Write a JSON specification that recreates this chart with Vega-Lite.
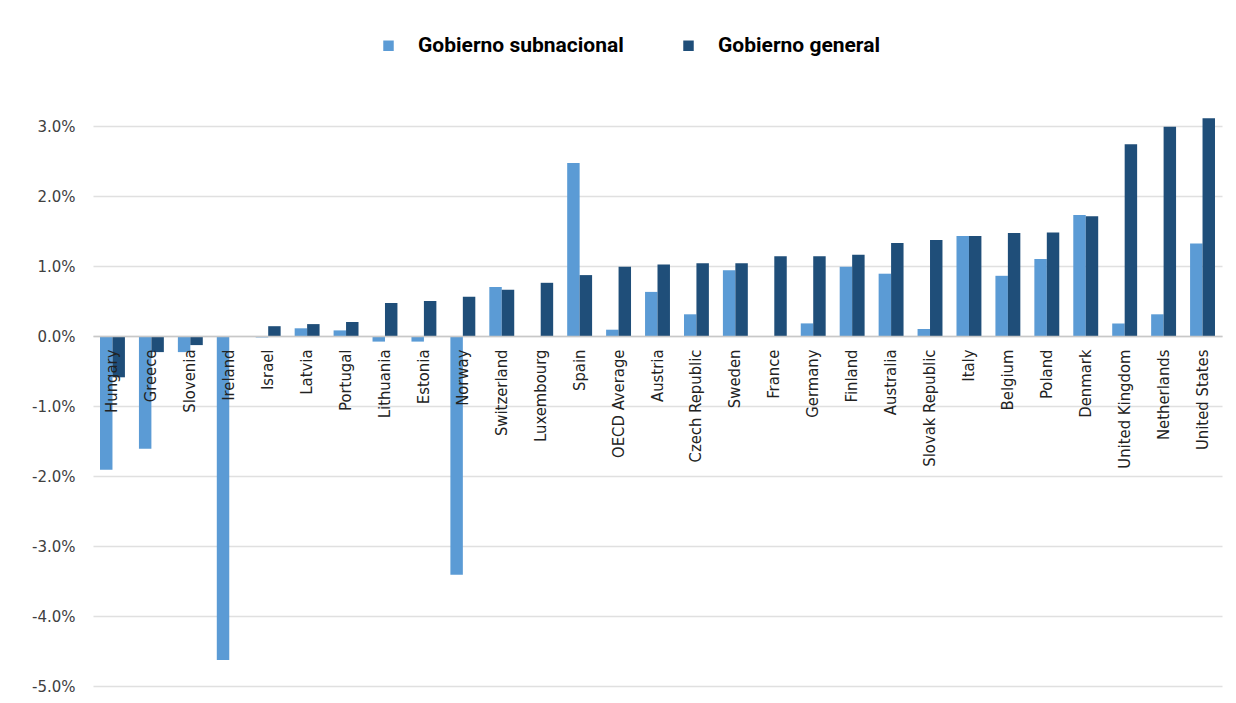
{
  "$schema": "https://vega.github.io/schema/vega-lite/v6.json",
  "width": 1129,
  "height": 595,
  "autosize": {"type": "none"},
  "padding": {"left": 93, "top": 91, "right": 14, "bottom": 17},
  "background": "white",
  "config": {"view": {"stroke": null}},
  "data": {"values": [
    {"pais": "Hungary", "serie": "Gobierno subnacional", "valor": -1.91},
    {"pais": "Hungary", "serie": "Gobierno general", "valor": -0.59},
    {"pais": "Greece", "serie": "Gobierno subnacional", "valor": -1.61},
    {"pais": "Greece", "serie": "Gobierno general", "valor": -0.23},
    {"pais": "Slovenia", "serie": "Gobierno subnacional", "valor": -0.23},
    {"pais": "Slovenia", "serie": "Gobierno general", "valor": -0.13},
    {"pais": "Ireland", "serie": "Gobierno subnacional", "valor": -4.63},
    {"pais": "Ireland", "serie": "Gobierno general", "valor": 0},
    {"pais": "Israel", "serie": "Gobierno subnacional", "valor": -0.02},
    {"pais": "Israel", "serie": "Gobierno general", "valor": 0.14},
    {"pais": "Latvia", "serie": "Gobierno subnacional", "valor": 0.11},
    {"pais": "Latvia", "serie": "Gobierno general", "valor": 0.17},
    {"pais": "Portugal", "serie": "Gobierno subnacional", "valor": 0.08},
    {"pais": "Portugal", "serie": "Gobierno general", "valor": 0.2},
    {"pais": "Lithuania", "serie": "Gobierno subnacional", "valor": -0.08},
    {"pais": "Lithuania", "serie": "Gobierno general", "valor": 0.47},
    {"pais": "Estonia", "serie": "Gobierno subnacional", "valor": -0.08},
    {"pais": "Estonia", "serie": "Gobierno general", "valor": 0.5},
    {"pais": "Norway", "serie": "Gobierno subnacional", "valor": -3.41},
    {"pais": "Norway", "serie": "Gobierno general", "valor": 0.56},
    {"pais": "Switzerland", "serie": "Gobierno subnacional", "valor": 0.7},
    {"pais": "Switzerland", "serie": "Gobierno general", "valor": 0.66},
    {"pais": "Luxembourg", "serie": "Gobierno subnacional", "valor": 0},
    {"pais": "Luxembourg", "serie": "Gobierno general", "valor": 0.76},
    {"pais": "Spain", "serie": "Gobierno subnacional", "valor": 2.47},
    {"pais": "Spain", "serie": "Gobierno general", "valor": 0.87},
    {"pais": "OECD Average", "serie": "Gobierno subnacional", "valor": 0.09},
    {"pais": "OECD Average", "serie": "Gobierno general", "valor": 0.99},
    {"pais": "Austria", "serie": "Gobierno subnacional", "valor": 0.63},
    {"pais": "Austria", "serie": "Gobierno general", "valor": 1.02},
    {"pais": "Czech Republic", "serie": "Gobierno subnacional", "valor": 0.31},
    {"pais": "Czech Republic", "serie": "Gobierno general", "valor": 1.04},
    {"pais": "Sweden", "serie": "Gobierno subnacional", "valor": 0.94},
    {"pais": "Sweden", "serie": "Gobierno general", "valor": 1.04},
    {"pais": "France", "serie": "Gobierno subnacional", "valor": 0},
    {"pais": "France", "serie": "Gobierno general", "valor": 1.14},
    {"pais": "Germany", "serie": "Gobierno subnacional", "valor": 0.18},
    {"pais": "Germany", "serie": "Gobierno general", "valor": 1.14},
    {"pais": "Finland", "serie": "Gobierno subnacional", "valor": 0.99},
    {"pais": "Finland", "serie": "Gobierno general", "valor": 1.16},
    {"pais": "Australia", "serie": "Gobierno subnacional", "valor": 0.89},
    {"pais": "Australia", "serie": "Gobierno general", "valor": 1.33},
    {"pais": "Slovak Republic", "serie": "Gobierno subnacional", "valor": 0.1},
    {"pais": "Slovak Republic", "serie": "Gobierno general", "valor": 1.37},
    {"pais": "Italy", "serie": "Gobierno subnacional", "valor": 1.43},
    {"pais": "Italy", "serie": "Gobierno general", "valor": 1.43},
    {"pais": "Belgium", "serie": "Gobierno subnacional", "valor": 0.86},
    {"pais": "Belgium", "serie": "Gobierno general", "valor": 1.47},
    {"pais": "Poland", "serie": "Gobierno subnacional", "valor": 1.1},
    {"pais": "Poland", "serie": "Gobierno general", "valor": 1.48},
    {"pais": "Denmark", "serie": "Gobierno subnacional", "valor": 1.73},
    {"pais": "Denmark", "serie": "Gobierno general", "valor": 1.71},
    {"pais": "United Kingdom", "serie": "Gobierno subnacional", "valor": 0.18},
    {"pais": "United Kingdom", "serie": "Gobierno general", "valor": 2.74},
    {"pais": "Netherlands", "serie": "Gobierno subnacional", "valor": 0.31},
    {"pais": "Netherlands", "serie": "Gobierno general", "valor": 2.99},
    {"pais": "United States", "serie": "Gobierno subnacional", "valor": 1.32},
    {"pais": "United States", "serie": "Gobierno general", "valor": 3.11}
  ]},
  "mark": {"type": "bar"},
  "encoding": {
    "x": {
      "field": "pais", "type": "nominal", "sort": null,
      "scale": {"paddingInner": 0.36, "paddingOuter": 0.18},
      "axis": {
        "title": null, "offset": -350, "ticks": false, "zindex": 1,
        "domainColor": "#c8c8c8", "domainWidth": 1.5,
        "labelAngle": -90, "labelPadding": 13,
        "labelFont": "DejaVu Sans Condensed", "labelFontSize": 16.5,
        "labelColor": "#222222", "labelLimit": 200
      }
    },
    "xOffset": {"field": "serie", "type": "nominal", "sort": ["Gobierno subnacional", "Gobierno general"]},
    "y": {
      "field": "valor", "type": "quantitative",
      "scale": {"domain": [-5, 3.5], "nice": false},
      "axis": {
        "title": null, "values": [-5, -4, -3, -2, -1, 0, 1, 2, 3],
        "labelExpr": "replace(format(datum.value/100, '.1%'), '\u2212', '-')",
        "domain": false, "ticks": false, "labelPadding": 18,
        "labelFont": "DejaVu Sans", "labelFontSize": 15, "labelColor": "#404040",
        "gridColor": "#e0e0e0", "gridWidth": 1.5
      }
    },
    "color": {
      "field": "serie", "type": "nominal",
      "sort": ["Gobierno subnacional", "Gobierno general"],
      "scale": {"domain": ["Gobierno subnacional", "Gobierno general"], "range": ["#5b9bd5", "#1f4e79"]},
      "legend": {
        "title": null, "orient": "none", "direction": "horizontal",
        "legendX": 285, "legendY": -56,
        "symbolType": "square", "symbolSize": 110, "symbolStrokeWidth": 0,
        "labelFont": "Roboto", "labelFontWeight": "bold", "labelFontSize": 21,
        "labelColor": "#000000", "labelOffset": 19, "columnPadding": 54, "labelLimit": 300
      }
    }
  }
}
